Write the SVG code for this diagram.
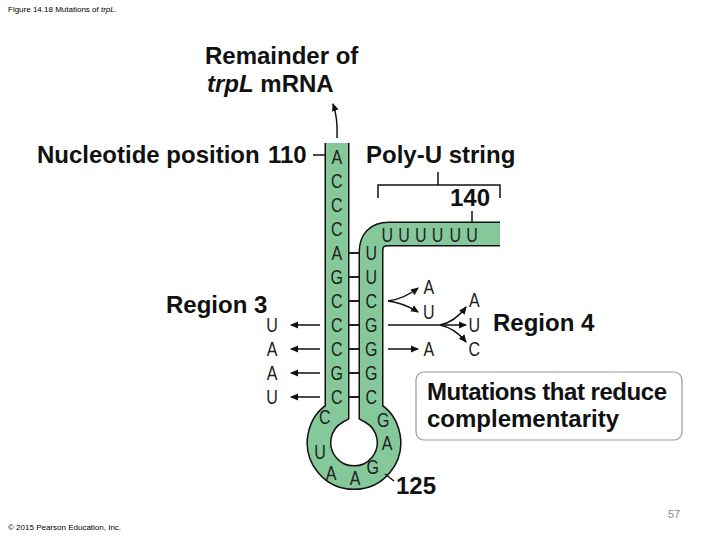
<svg xmlns="http://www.w3.org/2000/svg" width="720" height="540" viewBox="0 0 720 540">
<style>
text{font-family:"Liberation Sans",Arial,sans-serif}
.b{font-weight:bold;font-size:24px;fill:#111}
.n{font-size:20px;fill:#222;text-anchor:middle}
.ln{stroke:#111;stroke-width:1.5;fill:none}
.rung{stroke:#222;stroke-width:2}
</style>
<defs><marker id="ah" markerWidth="8" markerHeight="8" refX="7" refY="4" orient="auto" markerUnits="userSpaceOnUse"><path d="M0,0.5 L8,4 L0,7.5 Z" fill="#111"/></marker></defs>
<rect width="720" height="540" fill="#fff"/>
<text x="8" y="12" font-size="8">Figure 14.18 Mutations of <tspan font-style="italic">trpL</tspan>.</text>
<text x="8" y="530" font-size="8">© 2015 Pearson Education, Inc.</text>
<text x="668" y="518" font-size="11" fill="#888">57</text>
<g id="rna">
<path d="M337,143 V412 A35,35 0 1 0 371,412 V252 Q371,234 389,234 H500" fill="none" stroke="#111" stroke-width="25"/>
<path d="M337,143 V412 A35,35 0 1 0 371,412 V252 Q371,234 389,234 H500" fill="none" stroke="#85c99b" stroke-width="22"/>
<g class="rung"><line x1="349" y1="253" x2="359" y2="253"/><line x1="349" y1="277" x2="359" y2="277"/><line x1="349" y1="301" x2="359" y2="301"/><line x1="349" y1="325" x2="359" y2="325"/><line x1="349" y1="349" x2="359" y2="349"/><line x1="349" y1="373" x2="359" y2="373"/><line x1="349" y1="397" x2="359" y2="397"/></g>
<g class="n" transform="scale(0.8,1)">
<text x="421" y="164">A</text><text x="421" y="188">C</text><text x="421" y="212">C</text><text x="421" y="236">C</text><text x="421" y="260">A</text><text x="421" y="284">G</text><text x="421" y="308">C</text><text x="421" y="332">C</text><text x="421" y="356">C</text><text x="421" y="380">G</text><text x="421" y="404">C</text>
<text x="464" y="260">U</text><text x="464" y="284">U</text><text x="464" y="308">C</text><text x="464" y="332">G</text><text x="464" y="356">G</text><text x="464" y="380">G</text><text x="464" y="404">C</text>
<text x="484" y="242">U</text><text x="505" y="242">U</text><text x="526" y="242">U</text><text x="547" y="242">U</text><text x="569" y="242">U</text><text x="590" y="242">U</text>
<text x="406" y="424">C</text><text x="400" y="459">U</text><text x="414" y="480">A</text><text x="444" y="485">A</text><text x="466" y="474">G</text><text x="484" y="450">A</text><text x="479" y="427">G</text>
</g>
</g>
<g id="labels">
<text class="b" x="205" y="64">Remainder of</text>
<text class="b" x="207" y="92"><tspan font-style="italic">trpL</tspan> mRNA</text>
<text class="b" x="37" y="163">Nucleotide position</text>
<text class="b" x="268" y="163">110</text>
<text class="b" x="366" y="163">Poly-U string</text>
<text class="b" x="450" y="206">140</text>
<text class="b" x="166" y="313">Region 3</text>
<text class="b" x="493" y="331">Region 4</text>
<text class="b" x="396" y="494">125</text>
</g>
<g id="box">
<rect x="416" y="372" width="266" height="68" rx="8" fill="#fff" stroke="#999" stroke-width="1.2"/>
<text class="b" x="427" y="400" textLength="240">Mutations that reduce</text>
<text class="b" x="427" y="427">complementarity</text>
</g>
<g id="connectors">
<path class="ln" d="M337,138 Q338,118 333,104" marker-end="url(#ah)"/>
<line class="ln" x1="313" y1="155" x2="325" y2="155"/>
<path class="ln" d="M378,198 V185 H500 V198 M438,185 V172"/>
<line class="ln" x1="472" y1="211" x2="472" y2="223"/>
<line class="ln" x1="385" y1="474" x2="394" y2="481"/>
<line class="ln" x1="320" y1="325" x2="291" y2="325" marker-end="url(#ah)"/>
<line class="ln" x1="320" y1="349" x2="291" y2="349" marker-end="url(#ah)"/>
<line class="ln" x1="320" y1="373" x2="291" y2="373" marker-end="url(#ah)"/>
<line class="ln" x1="320" y1="397" x2="291" y2="397" marker-end="url(#ah)"/>
<path class="ln" d="M388,301 Q404,299 418,288" marker-end="url(#ah)"/>
<path class="ln" d="M388,301 Q404,303 418,312" marker-end="url(#ah)"/>
<line class="ln" x1="388" y1="325" x2="440" y2="325"/>
<path class="ln" d="M440,325 Q455,322 466,307" marker-end="url(#ah)"/>
<line class="ln" x1="440" y1="325" x2="466" y2="325" marker-end="url(#ah)"/>
<path class="ln" d="M440,325 Q455,328 466,342" marker-end="url(#ah)"/>
<line class="ln" x1="388" y1="349" x2="418" y2="349" marker-end="url(#ah)"/>
</g>
<g class="n" transform="scale(0.8,1)">
<text x="340" y="332">U</text><text x="340" y="356">A</text><text x="340" y="380">A</text><text x="340" y="404">U</text>
<text x="536" y="294">A</text><text x="536" y="319">U</text><text x="536" y="356">A</text>
<text x="593" y="307">A</text><text x="593" y="332">U</text><text x="593" y="356">C</text>
</g>
</svg>
